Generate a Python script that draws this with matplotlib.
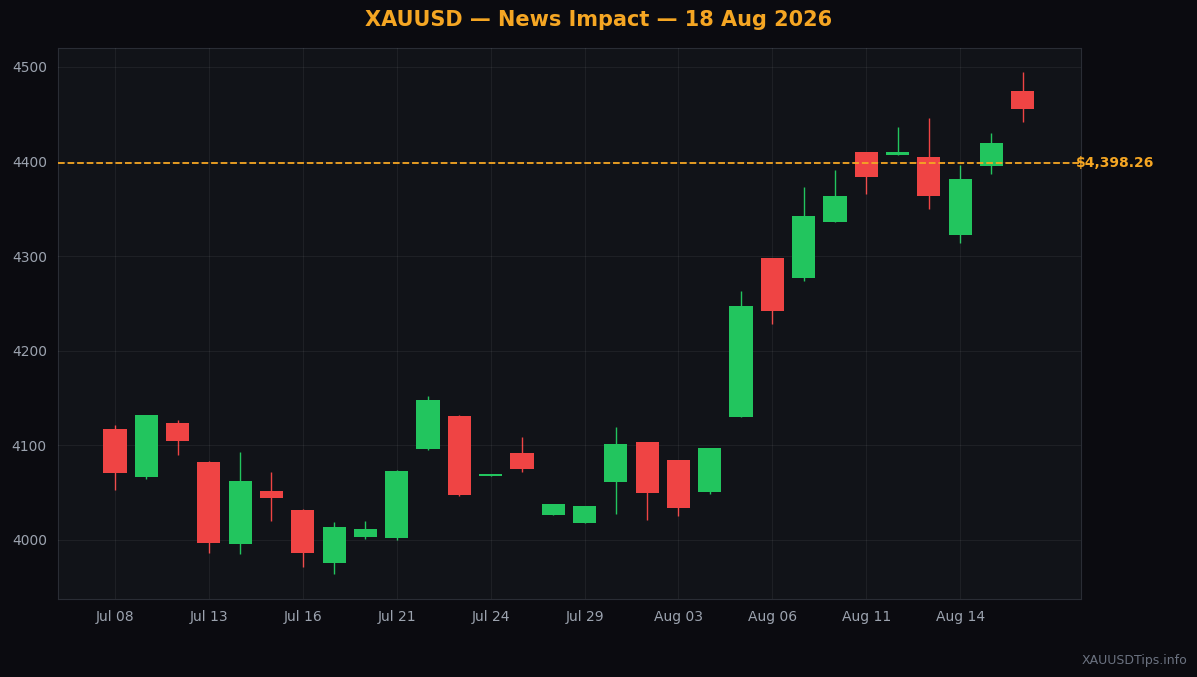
import numpy as np
import matplotlib.pyplot as plt

dates = ["Jul 08","Jul 09","Jul 10","Jul 13","Jul 14","Jul 15","Jul 16","Jul 17","Jul 20","Jul 21",
         "Jul 22","Jul 23","Jul 24","Jul 27","Jul 28","Jul 29","Jul 30","Jul 31","Aug 03","Aug 04",
         "Aug 05","Aug 06","Aug 07","Aug 10","Aug 11","Aug 12","Aug 13","Aug 14","Aug 17","Aug 18"]
opens  = [4117,4067,4124,4082,3996,4052,4032,3976,4003,4002,4096,4131,4068,4092,4026,4018,4061,4104,4085,4051,
          4130,4298,4277,4336,4410,4407,4405,4322,4395,4475]
closes = [4071,4132,4105,3997,4062,4044,3986,4014,4012,4073,4148,4047,4070,4075,4038,4036,4101,4050,4034,4097,
          4247,4242,4342,4364,4384,4410,4364,4382,4420,4456]
highs  = [4122,4132,4127,4083,4093,4072,4033,4019,4020,4074,4152,4132,4070,4109,4038,4036,4119,4104,4085,4097,
          4263,4298,4373,4391,4410,4436,4446,4396,4430,4495]
lows   = [4053,4064,4090,3986,3985,4020,3971,3964,4001,4000,4095,4046,4068,4072,4026,4018,4027,4021,4025,4049,
          4130,4228,4274,4336,4366,4407,4350,4314,4387,4442]
last_price = 4398.26

bg = "#0b0b10"
green = "#22c55e"
red = "#ef4444"
gold = "#f5a623"

fig = plt.figure(figsize=(11.97, 6.77), dpi=100, facecolor=bg)
ax = fig.add_axes([58/1197, 1-599/677, (1081-58)/1197, (599-48)/677])
ax.set_facecolor("#111318")

x = np.arange(len(dates))
for i in x:
    o, c, h, l = opens[i], closes[i], highs[i], lows[i]
    col = green if c >= o else red
    ax.vlines(i, l, h, color=col, linewidth=1, zorder=2)
    ax.bar(i, max(abs(c - o), 1.5), bottom=min(o, c), width=0.74, color=col, zorder=3)

ax.axhline(last_price, color=gold, linestyle="--", linewidth=1.3, zorder=4)
ax.text(30.7, last_price, f"${last_price:,.2f}", color=gold, fontsize=10, fontweight="bold",
        va="center", ha="left", zorder=5)

ax.set_xlim(-1.82, 30.86)
ax.set_ylim(3937.6, 4520)
ax.set_xticks(x[::3])
ax.set_xticklabels(dates[::3])
ax.set_yticks([4000, 4100, 4200, 4300, 4400, 4500])
ax.grid(True, color="#ffffff", alpha=0.06, linewidth=0.8, zorder=4)
ax.set_axisbelow(False)
ax.tick_params(colors="#9ca3af", labelsize=10, length=0, pad=8)
for s in ax.spines.values():
    s.set_color("#2a2d35")

fig.suptitle("XAUUSD — News Impact — 18 Aug 2026", color=gold, fontsize=15, fontweight="bold", y=0.985)
fig.text(0.992, 0.015, "XAUUSDTips.info", color="#6b7280", fontsize=9, ha="right", va="bottom")

fig.savefig("out.png", facecolor=bg)
